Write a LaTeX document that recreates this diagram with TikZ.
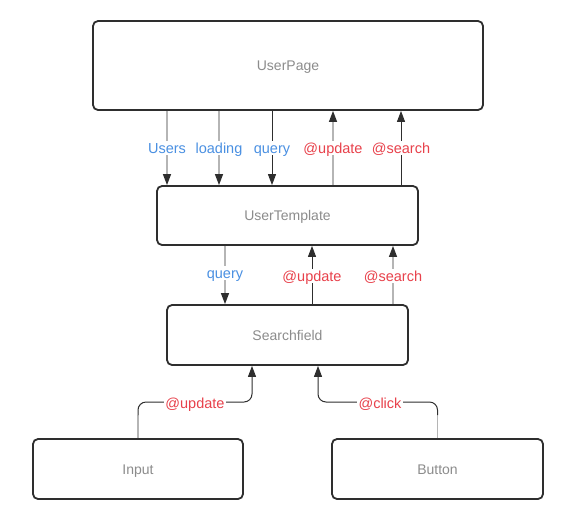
\documentclass[tikz,border=0pt]{standalone}
\usepackage{fontspec}
\setmainfont{Liberation Sans}
\usetikzlibrary{arrows.meta}
\definecolor{dk}{HTML}{2E2E2E}
\definecolor{lg}{HTML}{B5B5B5}
\definecolor{tg}{HTML}{8C8C8C}
\definecolor{bl}{HTML}{4A90E2}
\definecolor{rd}{HTML}{E8414B}
\tikzset{
  box/.style={draw=dk, line width=1.8pt, rounded corners=5pt, fill=white, text=tg,
    font=\fontsize{14}{16}\selectfont, inner sep=0pt, text height=10pt, text depth=0pt},
  tip/.style={-{Triangle[width=8pt,length=11pt,color=dk]}},
  dl/.style={draw=dk, line width=1pt, tip},
  gl/.style={draw=lg, line width=1.2pt, tip},
  lab/.style={fill=white, inner sep=1.5pt, font=\fontsize{14.5}{16}\selectfont,
    text height=10.4pt, text depth=0pt},
  pl/.style={lab, text=bl},
  el/.style={lab, text=rd}
}
\begin{document}
\begin{tikzpicture}[x=1pt,y=-1pt]
\useasboundingbox (0,0) rectangle (572,517);
\node[box, minimum width=390pt, minimum height=89pt] (up) at (288,65.5) {UserPage};
\node[box, minimum width=261pt, minimum height=59pt] (ut) at (287.5,215.5) {UserTemplate};
\node[box, minimum width=241pt, minimum height=60pt] (sf) at (287.5,335) {Searchfield};
\node[box, minimum width=210pt, minimum height=60pt] (in) at (138,469) {Input};
\node[box, minimum width=211pt, minimum height=60pt] (bt) at (437.5,469) {Button};
% columns
\coordinate (c1) at (167,0);
\coordinate (c2) at (219,0);
\coordinate (c3) at (272,0);
\coordinate (c4) at (333,0);
\coordinate (c5) at (401,0);
\coordinate (d1) at (225,0);
\coordinate (d2) at (312,0);
\coordinate (d3) at (393,0);
% top row
\draw[gl] (up.south -| c1) -- node[pl]{Users} (ut.north -| c1);
\draw[gl] (up.south -| c2) -- node[pl]{loading} (ut.north -| c2);
\draw[dl] (up.south -| c3) -- node[pl]{query} (ut.north -| c3);
\draw[gl] (ut.north -| c4) -- node[el]{@update} (up.south -| c4);
\draw[dl] (ut.north -| c5) -- node[el]{@search} (up.south -| c5);
% second row
\draw[gl] (ut.south -| d1) -- node[pl, yshift=2pt]{query} (sf.north -| d1);
\draw[dl] (sf.north -| d2) -- node[el, yshift=-1pt]{@update} (ut.south -| d2);
\draw[gl] (sf.north -| d3) -- node[el, yshift=-1pt]{@search} (ut.south -| d3);
% bottom
\coordinate (ia) at (138,415);
\coordinate (ib) at (138,402);
\coordinate (ic) at (252,402);
\coordinate (ba) at (437.5,415);
\coordinate (bb) at (437.5,402);
\coordinate (bc) at (318,402);
\draw[draw=lg, line width=1.2pt] (in.north) -- (ia);
\draw[dl, rounded corners=8pt] (ia) -- (ib) -- (ic) -- (ic |- sf.south);
\node[el] (lu) at (195,403) {@update};
\draw[draw=lg, line width=1.2pt] (bt.north) -- (ba);
\draw[dl, rounded corners=8pt] (ba) -- (bb) -- (bc) -- (bc |- sf.south);
\node[el] (lc) at (380,403) {@click};
\end{tikzpicture}
\end{document}
